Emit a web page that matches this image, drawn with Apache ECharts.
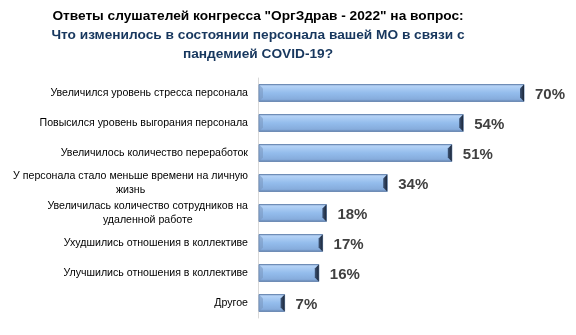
<!DOCTYPE html>
<html>
<head>
<meta charset="utf-8">
<script src="https://cdn.jsdelivr.net/npm/echarts@6/dist/echarts.min.js"></script>
<style>html,body{margin:0;padding:0;background:#fff;}#c{width:576px;height:335px;}</style>
</head>
<body>
<div id="c"></div>
<script>
var titleLine1 = 'Ответы слушателей конгресса "ОргЗдрав - 2022" на вопрос:';
var titleLine2 = 'Что изменилось в состоянии персонала вашей МО в связи с';
var titleLine3 = 'пандемией COVID-19?';
var categories = [
  'Увеличился уровень стресса персонала',
  'Повысился уровень выгорания персонала',
  'Увеличилось количество переработок',
  'У персонала стало меньше времени на личную\nжизнь',
  'Увеличилась количество сотрудников на\nудаленной работе',
  'Ухудшились отношения в коллективе',
  'Улучшились отношения в коллективе',
  'Другое'
];
var values = [70, 54, 51, 34, 18, 17, 16, 7];

var chart = echarts.init(document.getElementById('c'));
var FONT = '"Liberation Sans", Arial, sans-serif';

function renderBar(params, api) {
  var idx = api.value(0);
  var val = api.value(1);
  var start = api.coord([0, idx]);
  var end = api.coord([val, idx]);
  var h = 17;
  var x0 = start[0] + 1, x1 = end[0], yc = start[1];
  var y0 = yc - h / 2;
  var w = x1 - x0;
  var bev = 4;
  return {
    type: 'group',
    children: [
      {
        type: 'rect',
        shape: { x: x0, y: y0, width: w, height: h },
        style: {
          fill: new echarts.graphic.LinearGradient(0, 0, 0, 1, [
            { offset: 0, color: '#7f9cc4' },
            { offset: 0.12, color: '#b4d2f6' },
            { offset: 0.5, color: '#93bcec' },
            { offset: 0.85, color: '#86acdc' },
            { offset: 1, color: '#5d7aa3' }
          ]),
          stroke: '#6f8db6',
          lineWidth: 1
        }
      },
      {
        type: 'polygon',
        shape: { points: [[x0, y0], [x0 + bev, y0 + bev], [x0 + bev, y0 + h - bev], [x0, y0 + h]] },
        style: { fill: 'rgba(120,150,190,0.55)' }
      },
      {
        type: 'polygon',
        shape: { points: [[x1, y0], [x1 - bev, y0 + bev], [x1 - bev, y0 + h - bev], [x1, y0 + h]] },
        style: {
          fill: new echarts.graphic.LinearGradient(0, 0, 1, 0, [
            { offset: 0, color: '#3d5476' },
            { offset: 1, color: '#1b2638' }
          ])
        }
      },
      {
        type: 'text',
        style: {
          x: x1 + 11, y: yc + 2,
          text: val + '%',
          fill: '#404040',
          font: 'bold 15px ' + FONT,
          verticalAlign: 'middle',
          align: 'left'
        }
      }
    ]
  };
}

chart.setOption({
  animation: false,
  title: {
    text: '{a|' + titleLine1 + '}\n{b|' + titleLine2 + '}\n{b|' + titleLine3 + '}',
    left: 253,
    top: 2,
    textAlign: 'center',
    textStyle: {
      rich: {
        a: { fontFamily: FONT, fontWeight: 'bold', fontSize: 13.7, color: '#000000', lineHeight: 19, align: 'center' },
        b: { fontFamily: FONT, fontWeight: 'bold', fontSize: 13.7, color: '#17375e', lineHeight: 19, align: 'center' }
      }
    }
  },
  grid: { left: 258, top: 78, width: 304, height: 240 },
  xAxis: {
    type: 'value', min: 0, max: 80, show: false
  },
  yAxis: {
    type: 'category',
    data: categories,
    inverse: true,
    axisLine: { show: true, lineStyle: { color: '#d9d9d9', width: 1 } },
    axisTick: { show: false },
    axisLabel: {
      margin: 10,
      fontFamily: FONT,
      fontSize: 10.6,
      color: '#000',
      lineHeight: 14,
      formatter: function (v) {
        return v.split('\n').map(function (s) { return '{c|' + s + '}'; }).join('\n');
      },
      rich: {
        c: { fontFamily: FONT, fontSize: 10.6, color: '#000', lineHeight: 14, align: 'center' }
      }
    }
  },
  series: [{
    type: 'custom',
    renderItem: renderBar,
    encode: { x: 1, y: 0 },
    data: values.map(function (v, i) { return [i, v]; })
  }]
});
</script>
</body>
</html>
